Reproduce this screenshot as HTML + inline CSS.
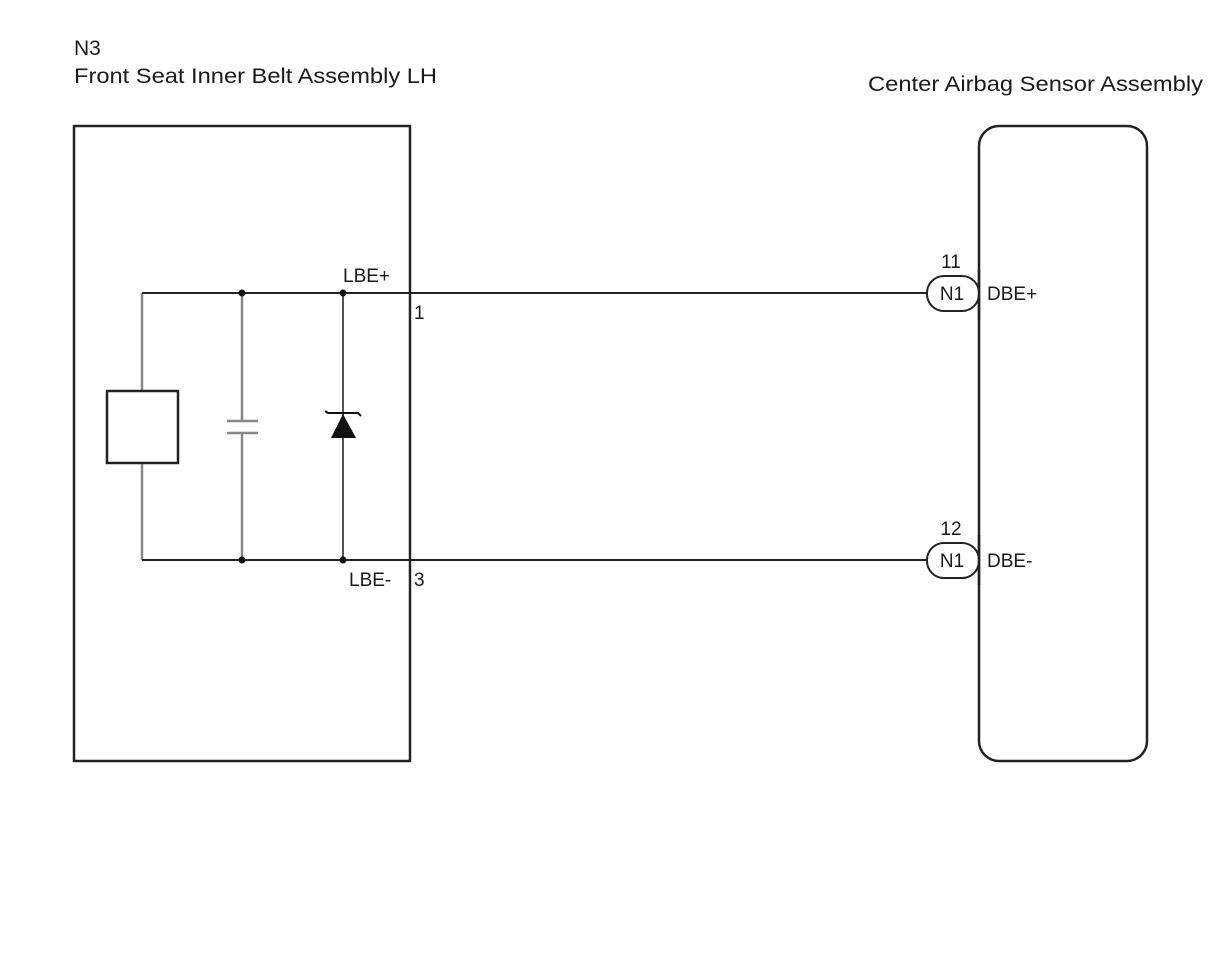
<!DOCTYPE html>
<html><head><meta charset="utf-8"><style>
html,body{margin:0;padding:0;background:#fff;}
svg{display:block;}
text{font-family:"Liberation Sans",Arial,sans-serif;fill:#1a1a1a;}
</style></head><body>
<svg width="1212" height="974" viewBox="0 0 1212 974" xmlns="http://www.w3.org/2000/svg">
<rect width="1212" height="974" fill="#fff"/>
<text x="74" y="55" font-size="21">N3</text>
<text x="74" y="83" font-size="21" textLength="363" lengthAdjust="spacingAndGlyphs">Front Seat Inner Belt Assembly LH</text>
<text x="868" y="91" font-size="21" textLength="335" lengthAdjust="spacingAndGlyphs">Center Airbag Sensor Assembly</text>

<rect x="74" y="126" width="336" height="635" fill="none" stroke="#222" stroke-width="2.5"/>
<rect x="979" y="126" width="168" height="635" rx="20" ry="20" fill="none" stroke="#222" stroke-width="2.5"/>

<g stroke="#888" stroke-width="2.5" fill="none">
<line x1="142" y1="293" x2="142" y2="391"/>
<line x1="142" y1="463" x2="142" y2="560"/>
<line x1="242" y1="293" x2="242" y2="421"/>
<line x1="242" y1="433" x2="242" y2="560"/>
<line x1="227" y1="421" x2="258" y2="421"/>
<line x1="227" y1="433" x2="258" y2="433"/>
</g>
<line x1="343" y1="293" x2="343" y2="560" stroke="#555" stroke-width="2"/>
<rect x="107" y="391" width="71" height="72" fill="#fff" stroke="#222" stroke-width="2.5"/>
<polygon points="343,414 331,438 356,438" fill="#111"/>
<polyline points="325,411 328,413 358,413 361,416" fill="none" stroke="#111" stroke-width="2"/>

<line x1="142" y1="293" x2="927" y2="293" stroke="#222" stroke-width="2"/>
<line x1="142" y1="560" x2="927" y2="560" stroke="#222" stroke-width="2"/>
<g fill="#111">
<circle cx="242" cy="293" r="3.5"/><circle cx="343" cy="293" r="3.5"/>
<circle cx="242" cy="560" r="3.5"/><circle cx="343" cy="560" r="3.5"/>
</g>

<rect x="927" y="276" width="52" height="35" rx="17" ry="17" fill="#fff" stroke="#222" stroke-width="2"/>
<rect x="927" y="543" width="52" height="35" rx="17" ry="17" fill="#fff" stroke="#222" stroke-width="2"/>
<line x1="979" y1="270" x2="979" y2="320" stroke="#222" stroke-width="2.5"/>
<line x1="979" y1="535" x2="979" y2="585" stroke="#222" stroke-width="2.5"/>
<text x="952" y="300" font-size="19" text-anchor="middle">N1</text>
<text x="952" y="567" font-size="19" text-anchor="middle">N1</text>
<text x="951" y="268" font-size="19" text-anchor="middle">11</text>
<text x="951" y="535" font-size="19" text-anchor="middle">12</text>
<text x="987" y="300" font-size="19">DBE+</text>
<text x="987" y="567" font-size="19">DBE-</text>

<text x="343" y="282" font-size="19">LBE+</text>
<text x="414" y="319" font-size="19">1</text>
<text x="349" y="586" font-size="19">LBE-</text>
<text x="414" y="586" font-size="19">3</text>
</svg>
</body></html>
